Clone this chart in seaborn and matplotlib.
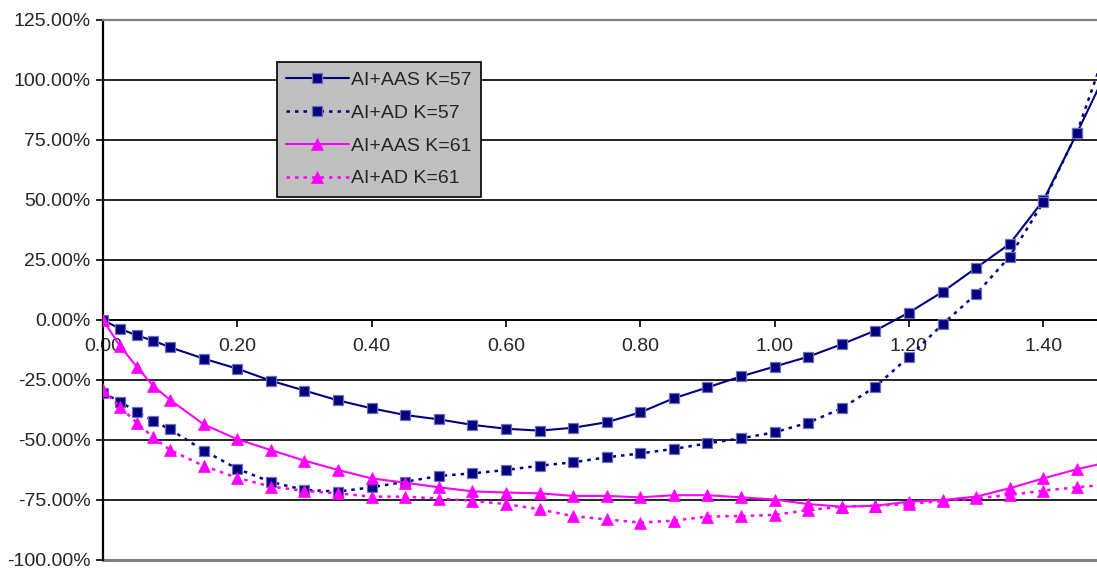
import numpy as np
import pandas as pd
import matplotlib
matplotlib.use("Agg")
import matplotlib.pyplot as plt
import seaborn as sns
from matplotlib.ticker import FuncFormatter, FixedLocator

# Sample positions (same for every series)
x_vals = [0.0, 0.025, 0.05, 0.075, 0.1, 0.15, 0.2, 0.25, 0.3, 0.35, 0.4, 0.45, 0.5,
          0.55, 0.6, 0.65, 0.7, 0.75, 0.8, 0.85, 0.9, 0.95, 1.0, 1.05, 1.1, 1.15,
          1.2, 1.25, 1.3, 1.35, 1.4, 1.45, 1.5]

# Relative change in percent
aas_k57 = [0.0, -3.6, -6.4, -8.6, -11.4, -16.1, -20.3, -25.3, -29.4, -33.5, -36.8,
           -39.6, -41.4, -43.7, -45.3, -46.1, -44.9, -42.6, -38.5, -32.6, -28.1,
           -23.5, -19.4, -15.3, -10.1, -4.4, 3.1, 11.7, 21.7, 31.7, 49.8, 77.8, 107.0]
ad_k57 = [-30.3, -34.0, -38.2, -42.0, -45.6, -54.4, -62.0, -67.5, -70.8, -71.5, -69.7,
          -67.4, -65.0, -63.9, -62.5, -60.7, -59.3, -57.2, -55.6, -53.7, -51.4,
          -49.3, -46.8, -42.8, -36.8, -27.8, -15.3, -1.8, 10.8, 26.4, 49.0, 78.0, 118.0]
aas_k61 = [0.0, -10.7, -19.4, -27.5, -33.3, -43.5, -49.7, -54.2, -58.6, -62.5, -66.0,
           -67.8, -69.7, -71.4, -71.9, -72.2, -73.3, -73.3, -73.9, -73.0, -73.0,
           -73.9, -74.8, -76.7, -77.8, -77.4, -75.7, -75.0, -73.6, -70.1, -66.0,
           -62.2, -59.0]
ad_k61 = [-29.2, -36.1, -42.8, -48.9, -54.2, -60.8, -65.8, -69.4, -71.2, -72.2, -73.6,
          -73.6, -74.4, -75.3, -76.7, -78.9, -81.7, -83.1, -84.4, -83.6, -81.9,
          -81.7, -81.2, -79.2, -77.8, -77.4, -76.7, -75.4, -74.3, -72.9, -71.1,
          -69.7, -68.5]

series_names = ["AI+AAS K=57", "AI+AD K=57", "AI+AAS K=61", "AI+AD K=61"]
series_vals = [aas_k57, ad_k57, aas_k61, ad_k61]

x_ticks = [0.0, 0.2, 0.4, 0.6, 0.8, 1.0, 1.2, 1.4]
y_ticks = [-100, -75, -50, -25, 0, 25, 50, 75, 100, 125]

sns.set_theme(style="white")
plt.rcParams["font.family"] = ["Liberation Sans", "DejaVu Sans"]

navy = "#000080"
magenta = "#ff00ff"
dotted = (0, (1.4, 2.0))
styles = [
    dict(color=navy, linestyle="-", linewidth=1.5, marker="s", markersize=7,
         markerfacecolor=navy, markeredgecolor="#7070b8", markeredgewidth=0.9),
    dict(color=navy, linestyle=dotted, linewidth=1.8, marker="s", markersize=7,
         markerfacecolor=navy, markeredgecolor="#7070b8", markeredgewidth=0.9),
    dict(color=magenta, linestyle="-", linewidth=1.5, marker="^", markersize=9,
         markerfacecolor=magenta, markeredgecolor=magenta, markeredgewidth=0.5),
    dict(color=magenta, linestyle=dotted, linewidth=1.8, marker="^", markersize=9,
         markerfacecolor=magenta, markeredgecolor=magenta, markeredgewidth=0.5),
]

fs = 14

fig = plt.figure(figsize=(10.97, 5.69), dpi=100)
ax = fig.add_axes([103 / 1097, 9 / 569, 994 / 1097, 540 / 569])

for name, vals, st in zip(series_names, series_vals, styles):
    df = pd.DataFrame({"x": x_vals, "y": vals})
    sns.lineplot(data=df, x="x", y="y", ax=ax, label=name,
                 sort=False, zorder=3, **st)

ax.set_xlim(0, 1.48)
ax.set_ylim(-100, 125)

# Horizontal gridlines
for yv in y_ticks[1:-1]:
    ax.axhline(yv, color="black", linewidth=1.2, zorder=1)

# Frame: left axis black, top and bottom edges gray, x axis through zero
ax.spines["left"].set_color("black")
ax.spines["left"].set_linewidth(1.6)
ax.spines["top"].set_color("#808080")
ax.spines["top"].set_linewidth(1.6)
ax.spines["right"].set_visible(False)
ax.spines["bottom"].set_position(("data", 0))
ax.spines["bottom"].set_color("black")
ax.spines["bottom"].set_linewidth(1.2)
ax.axhline(-100, color="#808080", linewidth=2.2, zorder=2, clip_on=False)

ax.xaxis.set_major_locator(FixedLocator(x_ticks))
ax.xaxis.set_major_formatter(FuncFormatter(lambda v, p: f"{v:.2f}"))
ax.yaxis.set_major_locator(FixedLocator(y_ticks))
ax.yaxis.set_major_formatter(FuncFormatter(lambda v, p: f"{v:.2f}%"))
ax.tick_params(axis="x", direction="out", length=5, width=1.2, color="black",
               labelsize=fs, pad=8, bottom=True)
ax.tick_params(axis="y", direction="out", length=5, width=1.2, color="black",
               labelsize=fs, pad=4, left=True)
ax.set_xlabel("")
ax.set_ylabel("")

leg = ax.legend(loc="upper left", bbox_to_anchor=(0.175, 0.922), borderaxespad=0,
                fontsize=fs, frameon=True, fancybox=False, framealpha=1,
                facecolor="#c0c0c0", edgecolor="black", handlelength=3.2,
                handletextpad=0.15, labelspacing=0.78, borderpad=0.48)
leg.get_frame().set_linewidth(1.2)
leg.set_zorder(5)

fig.savefig("out.png", dpi=100, facecolor="white")
